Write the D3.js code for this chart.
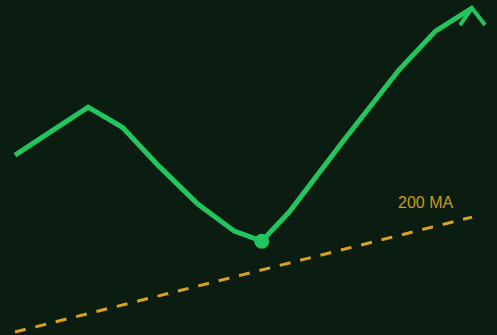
<!DOCTYPE html>
<html>
<head>
<meta charset="utf-8">
<script src="https://cdn.jsdelivr.net/npm/d3@7"></script>
<style>
  html, body { margin: 0; padding: 0; background: #0b1d10; }
  svg { display: block; }
</style>
</head>
<body>
<div id="chart"></div>
<script>
var days = [0, 16, 23.5, 31.5, 40, 48, 54, 60, 72, 84, 92, 100]
var prices = [53.7, 68, 62, 50.4, 39.1, 31, 28, 36.7, 58.2, 79.1, 90.7, 97.6]
var maDays = [0, 100]
var maValues = [0.9, 35.2]
var lowIndex = 6
var maLabel = "200 MA"
var title = "Strong upswing gaining momentum, buyers stepping in"

var width = 497, height = 335

var svg = d3.select("#chart")
  .append("svg")
    .attr("width", width)
    .attr("height", height)

svg.append("rect")
  .attr("width", width)
  .attr("height", height)
  .attr("fill", "#0b1d10")

var x = d3.scaleLinear().domain([0, 100]).range([15, 472])
var y = d3.scaleLinear().domain([0, 100]).range([335, 0])

// title, mostly above the visible area (cut off as in the original)
svg.append("text")
  .attr("x", 14)
  .attr("y", -4)
  .attr("fill", "#22c55e")
  .style("font-family", "Liberation Sans, Arial, sans-serif")
  .style("font-size", "16px")
  .text(title)

// moving average
var maLine = d3.line()
  .x(function(d, i) { return x(maDays[i]) })
  .y(function(d) { return y(d) })

svg.append("path")
  .datum(maValues)
  .attr("d", maLine)
  .attr("fill", "none")
  .attr("stroke", "#d9a31c")
  .attr("stroke-width", 3)
  .attr("stroke-dasharray", "11,10")

svg.append("text")
  .attr("x", x(maDays[1]) - 74)
  .attr("y", y(maValues[1]) - 9)
  .attr("fill", "#c99a1e")
  .style("font-family", "Liberation Sans, Arial, sans-serif")
  .style("font-size", "16px")
  .text(maLabel)

// price line
var line = d3.line()
  .x(function(d, i) { return x(days[i]) })
  .y(function(d) { return y(d) })

svg.append("path")
  .datum(prices)
  .attr("d", line)
  .attr("fill", "none")
  .attr("stroke", "#22c55e")
  .attr("stroke-width", 5)
  .attr("stroke-linejoin", "miter")

// arrow head at the end
var last = prices.length - 1
var tx = x(days[last]), ty = y(prices[last])
svg.append("path")
  .attr("d", "M" + (tx - 12) + "," + (ty + 17) + "L" + tx + "," + ty + "L" + (tx + 13) + "," + (ty + 17))
  .attr("fill", "none")
  .attr("stroke", "#22c55e")
  .attr("stroke-width", 4)

// low point
svg.append("circle")
  .attr("cx", x(days[lowIndex]))
  .attr("cy", y(prices[lowIndex]))
  .attr("r", 7.5)
  .attr("fill", "#22c55e")
</script>
</body>
</html>
